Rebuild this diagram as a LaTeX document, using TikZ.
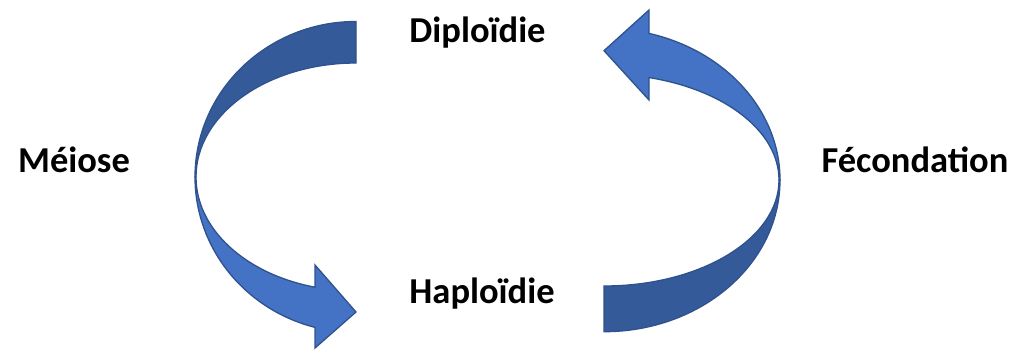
\documentclass[tikz,border=0pt]{standalone}
\usepackage{fontspec}
\setmainfont{Carlito}
\definecolor{lightblue}{RGB}{68,114,196}
\definecolor{darkblue}{RGB}{52,90,154}
\definecolor{edgeblue}{RGB}{47,82,143}
\begin{document}
\begin{tikzpicture}[x=1pt,y=1pt,
  front/.style={fill=lightblue,draw=edgeblue,line width=1.3pt,line join=miter},
  back/.style={fill=darkblue,draw=edgeblue,line width=1.3pt,line join=miter},
  lbl/.style={font=\fontsize{36.5}{42}\selectfont\bfseries,anchor=base,inner sep=0pt}]
\useasboundingbox (0,0) rectangle (1014,349);
% left arrow (Meiose)
\path[back] (356,327.5) arc[start angle=90,end angle=180,x radius=161pt,y radius=155.5pt]
  -- (196,172) arc[start angle=180,end angle=90,x radius=160pt,y radius=114pt] -- cycle;
\path[front] (195,172) arc[start angle=180,end angle=255.25,x radius=161pt,y radius=155.5pt]
  -- (315,1) -- (356,37) -- (315,84) -- (315,61.8)
  arc[start angle=255.15,end angle=180,x radius=160pt,y radius=114pt] -- cycle;
% right arrow (Fecondation)
\path[back] (604,17.3) arc[start angle=270,end angle=360,x radius=176pt,y radius=151.7pt]
  -- (779,169) arc[start angle=360,end angle=270,x radius=175pt,y radius=106pt] -- cycle;
\path[front] (649,315.6) arc[start angle=75.19,end angle=0,x radius=176pt,y radius=151.7pt]
  -- (779,169) arc[start angle=0,end angle=75.1,x radius=175pt,y radius=106pt]
  -- (649,249) -- (604,298.3) -- (649,339) -- cycle;
% labels
\node[lbl] (dip) at (477.5,306.7) {Diploïdie};
\node[lbl] (hap) at (482,45.7) {Haploïdie};
\node[lbl] (mei) at (74,177) {Méiose};
\node[lbl] (fec) at (915,176.3) {Fécondation};
\end{tikzpicture}
\end{document}
